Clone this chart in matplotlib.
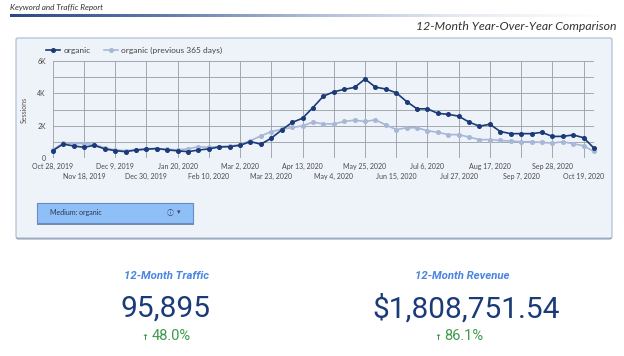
import matplotlib
matplotlib.use('Agg')
import matplotlib.pyplot as plt
import numpy as np
from matplotlib.patches import FancyBboxPatch, Rectangle
from matplotlib.colors import LinearSegmentedColormap
import matplotlib.ticker as mticker

# ---------------- data ----------------
tick_labels = ["Oct 28, 2019", "Nov 18, 2019", "Dec 9, 2019", "Dec 30, 2019",
               "Jan 20, 2020", "Feb 10, 2020", "Mar 2, 2020", "Mar 23, 2020",
               "Apr 13, 2020", "May 4, 2020", "May 25, 2020", "Jun 15, 2020",
               "Jul 6, 2020", "Jul 27, 2020", "Aug 17, 2020", "Sep 7, 2020",
               "Sep 28, 2020", "Oct 19, 2020"]

organic = [470, 880, 760, 680, 800, 580, 470, 410, 510, 560, 600, 520, 460,
           410, 510, 580, 700, 720, 800, 1030, 870, 1240, 1750, 2210, 2470,
           3130, 3830, 4100, 4250, 4370, 4890, 4390, 4270, 4040, 3500, 3050,
           3050, 2770, 2710, 2600, 2230, 1980, 2100, 1650, 1520, 1520, 1520,
           1600, 1350, 1350, 1440, 1270, 625]

previous = [520, 930, 910, 910, 850, 640, 520, 470, 520, 600, 600, 560, 520,
            580, 720, 680, 720, 740, 850, 1090, 1380, 1650, 1790, 1900, 2000,
            2230, 2120, 2120, 2270, 2350, 2270, 2370, 2060, 1770, 1880, 1880,
            1700, 1600, 1460, 1460, 1310, 1150, 1150, 1100, 1060, 1020, 1020,
            980, 940, 1020, 900, 770, 420]

series_names = ["organic", "organic (previous 365 days)"]

kpi_titles = ["12-Month Traffic", "12-Month Revenue"]
kpi_values = ["95,895", "$1,808,751.54"]
kpi_changes = ["48.0%", "86.1%"]

# ---------------- layout helpers ----------------
W, H = 624, 356
fig = plt.figure(figsize=(W / 100, H / 100), dpi=100)
fig.patch.set_facecolor('white')


def fx(x):
    return x / W


def fy(y):
    return 1 - y / H


PANEL = '#eef2f9'
DARK = '#1b3a78'
LIGHT = '#a7b7d6'

# header
fig.text(fx(10), fy(7.5), "Keyword and Traffic Report", fontsize=5.9,
         family='Lato', style='italic', color='#333333', va='center', ha='left')

gax = fig.add_axes([fx(10), fy(17), fx(610) - fx(10), 3 / H])
cmap = LinearSegmentedColormap.from_list('g', ['#2a4a85', '#5f7aa8', '#aebcd6', '#e6eaf2', '#ffffff'])
gax.imshow(np.linspace(0, 1, 300)[None, :], aspect='auto', cmap=cmap)
gax.axis('off')

fig.text(fx(617), fy(27), "12-Month Year-Over-Year Comparison", fontsize=8.8,
         family='Lato', style='italic', color='#333333', va='center', ha='right')

# panel with shadow
shadow = FancyBboxPatch((fx(16), fy(239.5)), fx(612) - fx(16), (239.5 - 39.5) / H,
                        boxstyle='round,pad=0,rounding_size=0.004',
                        transform=fig.transFigure, facecolor='#8e9bb0',
                        edgecolor='none', zorder=0)
fig.add_artist(shadow)
panel = FancyBboxPatch((fx(16), fy(238)), fx(612) - fx(16), (238 - 38) / H,
                       boxstyle='round,pad=0,rounding_size=0.004',
                       transform=fig.transFigure, facecolor=PANEL,
                       edgecolor='#a9b9d2', linewidth=0.8, zorder=0.5)
fig.add_artist(panel)

# ---------------- chart ----------------
ax = fig.add_axes([fx(52.7), fy(158.3), fx(594) - fx(52.7), (158.3 - 61) / H])
ax.set_zorder(3)
ax.set_facecolor(PANEL)
x = np.arange(len(organic))
ax.plot(x, organic, color=DARK, lw=1.2, marker='o', ms=2.6, label=series_names[0],
        zorder=3, clip_on=False)
ax.plot(x, previous, color=LIGHT, lw=1.2, marker='o', ms=2.6, label=series_names[1],
        zorder=2, clip_on=False)
ax.set_xlim(0, len(organic) - 1)
ax.set_ylim(0, 6000)

tick_pos = np.arange(len(tick_labels)) * 3
ax.set_xticks(tick_pos[0::2])
ax.set_xticklabels(tick_labels[0::2])
ax.set_xticks(tick_pos[1::2], minor=True)
ax.set_xticklabels(tick_labels[1::2], minor=True)

ax.set_yticks([0, 2000, 4000, 6000])
ax.yaxis.set_major_formatter(mticker.FuncFormatter(lambda v, p: '0' if v == 0 else f'{int(v/1000)}K'))
ax.set_yticks([1000, 3000, 5000], minor=True)

ax.grid(True, which='both', color='#a3a7b0', lw=0.7)
ax.set_axisbelow(True)
for s in ax.spines.values():
    s.set_visible(False)
ax.tick_params(axis='x', which='major', length=0, pad=3.4, labelsize=5, labelcolor='#4a4a4a')
ax.tick_params(axis='x', which='minor', length=0, pad=10.2, labelsize=5, labelcolor='#4a4a4a')
ax.tick_params(axis='y', which='both', length=0, pad=5, labelsize=5, labelcolor='#4a4a4a')
for lab in ax.get_xticklabels(which='both') + ax.get_yticklabels():
    lab.set_family('Lato')
ax.set_ylabel("Sessions", fontsize=5, family='Lato', color='#555555', labelpad=7)

leg = ax.legend(loc='center left', bbox_to_anchor=(fx(46), fy(50.5)),
                bbox_transform=fig.transFigure, ncol=2, frameon=False,
                handlelength=1.7, handletextpad=0.4, columnspacing=1.6,
                prop={'family': 'Lato', 'size': 6}, borderaxespad=0, borderpad=0)
for t in leg.get_texts():
    t.set_color('#444444')

# filter control
fbox_sh = Rectangle((fx(37), fy(224.5)), fx(193.5) - fx(37), (224.5 - 203) / H,
                    transform=fig.transFigure, facecolor='#7d8ba3', edgecolor='none', zorder=1)
fig.add_artist(fbox_sh)
fbox = Rectangle((fx(36.5), fy(223)), fx(192.5) - fx(36.5), (223 - 202.5) / H,
                 transform=fig.transFigure, facecolor='#8fbff7', edgecolor='#6a8cc0',
                 linewidth=0.8, zorder=2)
fig.add_artist(fbox)
fig.text(fx(50), fy(213), "Medium: organic", fontsize=5, family='Lato',
         color='#2a3550', va='center', ha='left', zorder=3)
fig.text(fx(170), fy(212.5), "ⓘ", fontsize=5, family=['Noto Sans CJK SC', 'DejaVu Sans'],
         color='#3a4560', va='center', ha='center', zorder=3)
fig.text(fx(179), fy(212.5), "▾", fontsize=5, family=['DejaVu Sans'],
         color='#3a4560', va='center', ha='center', zorder=3)

# ---------------- KPIs ----------------
kpi_cx = [167, 462]
val_cx = [166, 466]
chg_arrow_x = [145, 438]
chg_text_x = [151.5, 444.5]
for i in range(2):
    fig.text(fx(kpi_cx[i]), fy(276), kpi_titles[i], fontsize=8.2, family='Roboto',
             style='italic', weight='bold', color='#4a86e0', ha='center', va='center')
    fig.text(fx(val_cx[i]), fy(309), kpi_values[i], fontsize=21.5, family='Roboto',
             color='#1a3a78', ha='center', va='center')
    fig.text(fx(chg_arrow_x[i]), fy(337.5), "↑", fontsize=6, family=['DejaVu Sans'],
             weight='bold', color='#3d9a4a', ha='center', va='center')
    fig.text(fx(chg_text_x[i]), fy(336), kpi_changes[i], fontsize=10.5, family='Roboto',
             color='#3d9a4a', ha='left', va='center')

fig.savefig('out.png', dpi=100, facecolor='white')
